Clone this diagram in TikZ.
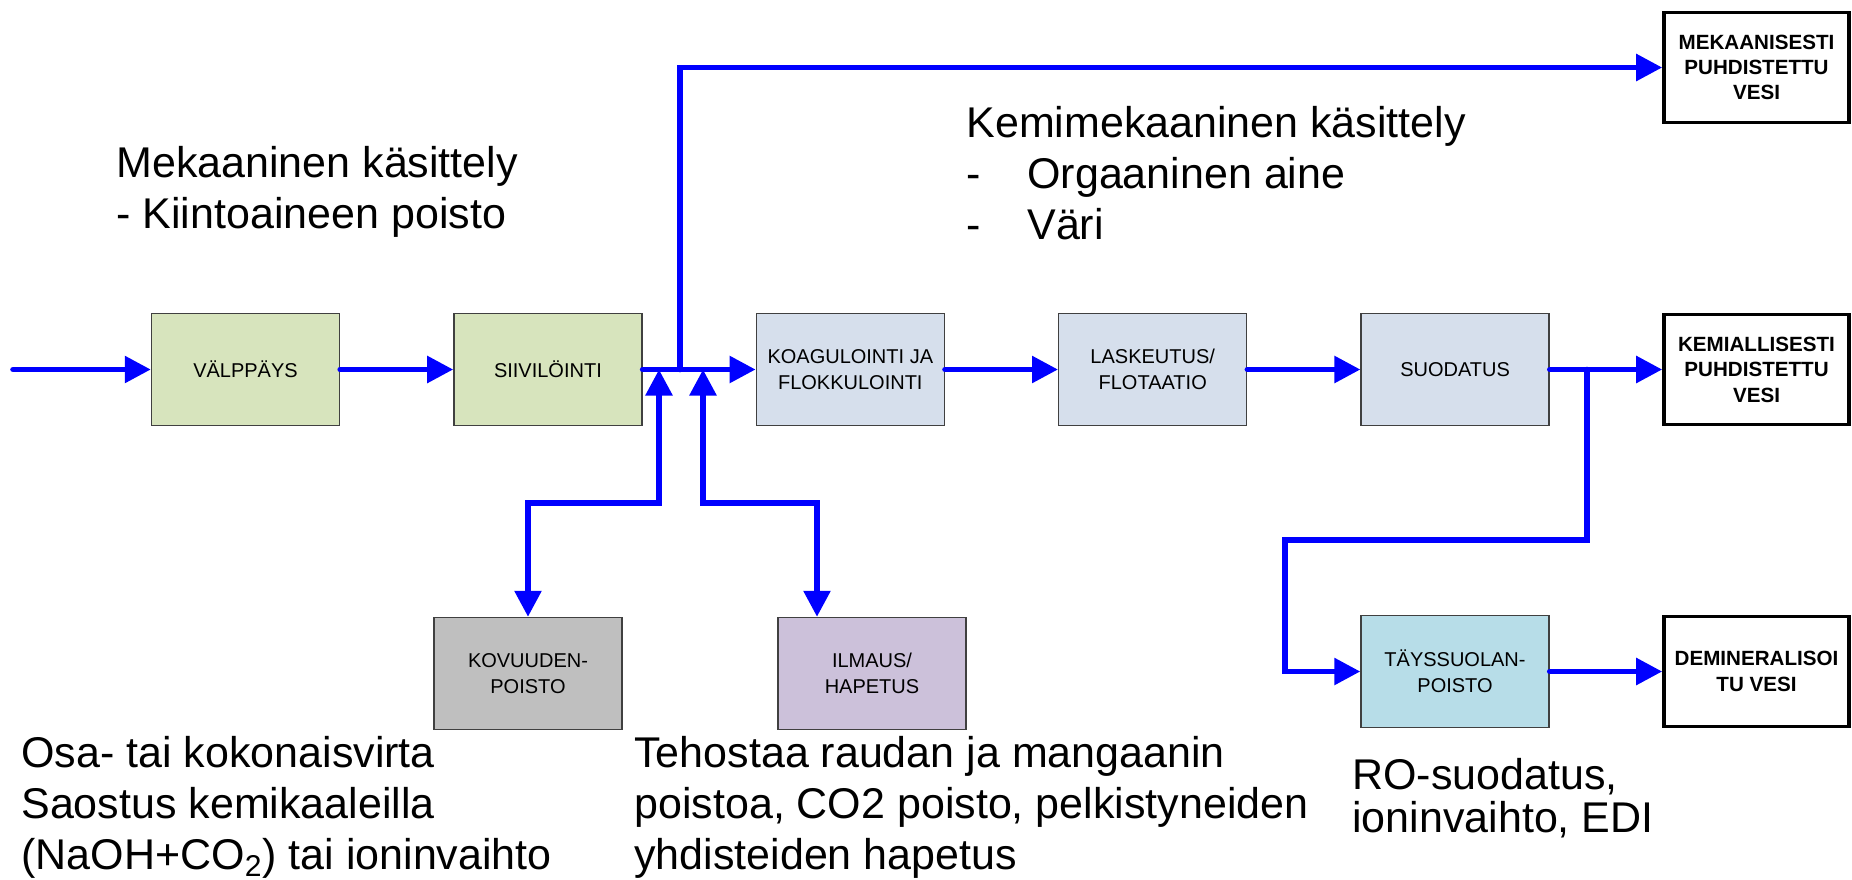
\documentclass[tikz,border=0pt]{standalone}
\usepackage{fontspec}
\setmainfont{Liberation Sans}
\usetikzlibrary{arrows.meta, positioning}
\definecolor{vihrea}{RGB}{215,228,189}
\definecolor{siniharmaa}{RGB}{214,223,236}
\definecolor{harmaa}{RGB}{191,191,191}
\definecolor{violetti}{RGB}{204,193,218}
\definecolor{turkoosi}{RGB}{183,221,232}
\definecolor{reuna}{RGB}{64,64,64}
\definecolor{virtasin}{RGB}{0,0,255}

\tikzset{
  prosessi/.style={draw=reuna, line width=0.7pt, minimum width=94pt, minimum height=56pt,
    inner sep=0pt, align=center, font=\fontsize{10}{13}\selectfont},
  tulos/.style={draw=black, line width=1.8pt, fill=white, minimum width=92.5pt, minimum height=55pt,
    inner sep=0pt, align=center, font=\bfseries\fontsize{10.3}{12.7}\selectfont},
  virta/.style={virtasin, line width=2.8pt, line cap=round, -{Triangle[length=13pt,width=13pt]}},
  kaksisuunta/.style={virta, {Triangle[length=13pt,width=13pt]}-{Triangle[length=13pt,width=13pt]}},
  selite/.style={anchor=north west, inner sep=0pt, align=left, font=\fontsize{21.5}{25.5}\selectfont}
}

\begin{document}
\begin{tikzpicture}[x=0.5pt, y=-0.5pt]
  \useasboundingbox (0,0) rectangle (1852,879);

  % paalinja
  \node[prosessi, fill=vihrea] (valp) at (245.5,369.5) {VÄLPPÄYS};
  \node[prosessi, fill=vihrea, right=56.5pt of valp] (siiv) {SIIVILÖINTI};
  \node[prosessi, fill=siniharmaa, right=56.5pt of siiv] (koag) {KOAGULOINTI JA\\FLOKKULOINTI};
  \node[prosessi, fill=siniharmaa, right=56.5pt of koag] (lask) {LASKEUTUS/\\FLOTAATIO};
  \node[prosessi, fill=siniharmaa, right=56.5pt of lask] (suod) {SUODATUS};

  % sivuprosessit
  \node[prosessi, fill=harmaa] (kov) at (528,673.5) {KOVUUDEN-\\POISTO};
  \node[prosessi, fill=violetti] (ilma) at (872,673.5) {ILMAUS/\\HAPETUS};
  \node[prosessi, fill=turkoosi] (tays) at (1455,671.5) {TÄYSSUOLAN-\\POISTO};

  % lopputuotteet
  \node[tulos] (mek) at (1756.5,67.5) {MEKAANISESTI\\PUHDISTETTU\\VESI};
  \node[tulos] (kem) at (1756.5,369.5) {KEMIALLISESTI\\PUHDISTETTU\\VESI};
  \node[tulos] (demi) at (1756.5,671.5) {DEMINERALISOI\\TU VESI};

  \coordinate (tulo) at (13,369.5);
  \coordinate (haara) at (680,369.5);
  \coordinate (kovliit) at (659,369.5);
  \coordinate (ilmliit) at (703,369.5);
  \coordinate (ilmkulma) at (817,503);
  \coordinate (haara2) at (1587,369.5);
  \coordinate (kulma) at (1285,540);

  \draw[virta] (tulo) -- (valp);
  \draw[virta] (valp) -- (siiv);
  \draw[virta] (siiv) -- (koag);
  \draw[virta] (koag) -- (lask);
  \draw[virta] (lask) -- (suod);
  \draw[virta] (suod) -- (kem);
  \draw[virta] (haara) |- (mek);
  \draw[kaksisuunta] (kov.north) -- ++(0,-114) -| (kovliit);
  \draw[kaksisuunta] (ilma.north -| ilmkulma) -- (ilmkulma) -| (ilmliit);
  \draw[virta] (haara2) |- (kulma) |- (tays);
  \draw[virta] (tays) -- (demi);

  % selitteet
  \node[selite] (mekkas) at (116,146) {Mekaaninen käsittely\\- Kiintoaineen poisto};
  \node[selite] (kemkas) at (966,106) {Kemimekaaninen käsittely\\\makebox[30.5pt][l]{-}Orgaaninen aine\\\makebox[30.5pt][l]{-}Väri};
  \node[selite] (kovsel) at (21,736) {Osa- tai kokonaisvirta\\Saostus kemikaaleilla\\(NaOH+CO\textsubscript{2}) tai ioninvaihto};
  \node[selite] (ilmsel) at (634,736) {Tehostaa raudan ja mangaanin\\poistoa, CO2 poisto, pelkistyneiden\\yhdisteiden hapetus};
  \node[selite, font=\fontsize{21.5}{21.5}\selectfont] (tayssel) at (1352,758) {RO-suodatus,\\ioninvaihto, EDI};
\end{tikzpicture}
\end{document}
